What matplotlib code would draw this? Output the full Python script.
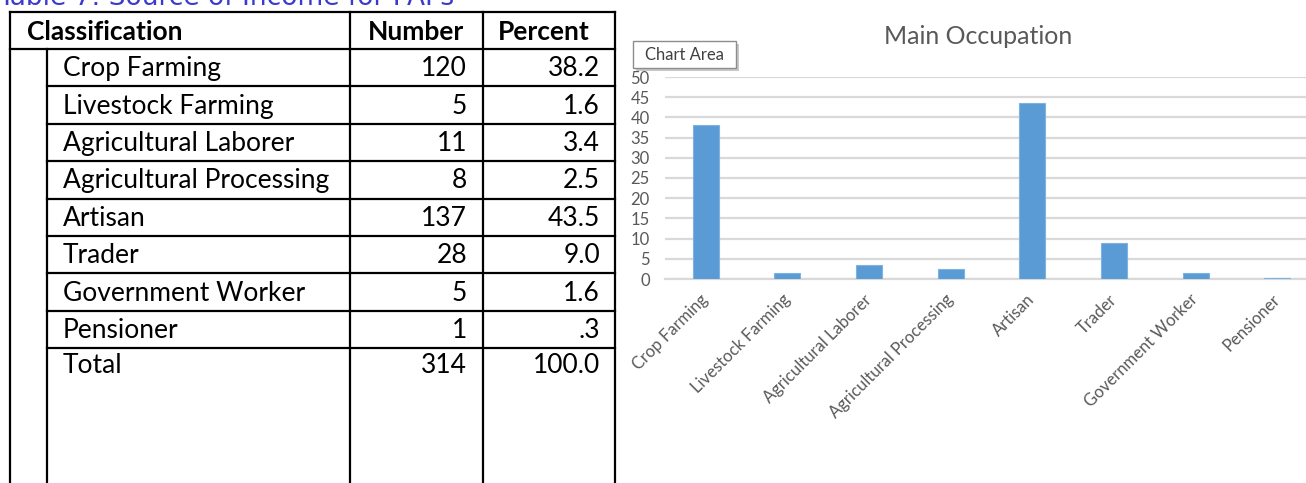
import numpy as np
import matplotlib.pyplot as plt
from matplotlib.patches import Rectangle

# data
categories = ["Crop Farming", "Livestock Farming", "Agricultural Laborer",
              "Agricultural Processing", "Artisan", "Trader",
              "Government Worker", "Pensioner"]
numbers = [120, 5, 11, 8, 137, 28, 5, 1]
percents = [38.2, 1.6, 3.4, 2.5, 43.5, 9.0, 1.6, 0.3]
percent_labels = ["38.2", "1.6", "3.4", "2.5", "43.5", "9.0", "1.6", ".3"]
total_number = 314
total_percent = "100.0"
headers = ["Classification", "Number", "Percent"]
y_ticks = list(range(0, 55, 5))

W, H = 1306, 483
BAR_COLOR = '#5B9BD5'
GREY_TXT = '#595959'
GRID = '#D9D9D9'

fig = plt.figure(figsize=(W / 100, H / 100), dpi=100)

def fx(px):
    return px / W

def fy(py):
    return 1 - py / H

# bar chart (pixel box of plot area: x 665..1318, y 77..279)
ax = fig.add_axes([fx(665), fy(279), fx(1318) - fx(665), fy(77) - fy(279)])
x = np.arange(len(categories))
ax.bar(x, percents, width=0.32, color=BAR_COLOR, edgecolor='#7FB2E0', lw=0.8, zorder=3)
ax.set_xlim(-0.5, len(categories) - 0.5)
ax.set_ylim(0, 50)
ax.set_yticks(y_ticks)
ax.yaxis.grid(True, color=GRID, lw=1.6, zorder=0)
for s in ['top', 'right', 'left']:
    ax.spines[s].set_visible(False)
ax.spines['bottom'].set_color(GRID)
ax.spines['bottom'].set_linewidth(1.6)
ax.tick_params(axis='both', length=0, colors=GREY_TXT)
ax.tick_params(axis='y', labelsize=12, pad=11)
ax.set_xticks(x)
ax.set_xticklabels(categories, rotation=45, ha='right', va='center',
                   rotation_mode='anchor', fontsize=12, color=GREY_TXT,
                   family='Lato')
ax.tick_params(axis='x', pad=13)
for lab in ax.get_yticklabels():
    lab.set_family('Lato')

# overlay in pixel coordinates: table, titles, tooltip
ov = fig.add_axes([0, 0, 1, 1], zorder=5)
ov.set_xlim(0, W)
ov.set_ylim(H, 0)
ov.axis('off')
ov.patch.set_alpha(0)

# cut-off caption at very top
ov.text(-2, 5, "Table 7: Source of Income for PAPs", color='#3A3ACF',
        fontsize=19, family='DejaVu Sans', va='baseline', ha='left')

LW = 1.6
x_left, x_ind, x_c2, x_c3, x_right = 10, 47, 350, 483, 615
y_top, y_head = 12, 49
row_h = 37.4
row_lines = [y_head + row_h * (i + 1) for i in range(len(categories))]

ov.plot([x_left, x_right], [y_top, y_top], color='black', lw=LW)
ov.plot([x_left, x_right], [y_head, y_head], color='black', lw=LW)
for yl in row_lines:
    ov.plot([x_ind, x_right], [yl, yl], color='black', lw=LW)
ov.plot([x_left, x_left], [y_top, H], color='black', lw=LW)
ov.plot([x_ind, x_ind], [y_head, H], color='black', lw=LW)
for xv in [x_c2, x_c3, x_right]:
    ov.plot([xv, xv], [y_top, H], color='black', lw=LW)

TFS = 19
ov.text(27, (y_top + y_head) / 2 + 1, headers[0], fontsize=TFS, weight='bold',
        family='Lato', va='center', ha='left')
ov.text(416, (y_top + y_head) / 2 + 1, headers[1], fontsize=TFS, weight='bold',
        family='Lato', va='center', ha='center')
ov.text(544, (y_top + y_head) / 2 + 1, headers[2], fontsize=TFS, weight='bold',
        family='Lato', va='center', ha='center')

for i, cat in enumerate(categories):
    yc = y_head + row_h * i + row_h / 2 + 1
    ov.text(63, yc, cat, fontsize=TFS, family='Lato', va='center', ha='left')
    ov.text(467, yc, str(numbers[i]), fontsize=TFS, family='Lato', va='center', ha='right')
    ov.text(600, yc, percent_labels[i], fontsize=TFS, family='Lato', va='center', ha='right')
yc = row_lines[-1] + row_h / 2 - 1
ov.text(63, yc, "Total", fontsize=TFS, family='Lato', va='center', ha='left')
ov.text(467, yc, str(total_number), fontsize=TFS, family='Lato', va='center', ha='right')
ov.text(600, yc, total_percent, fontsize=TFS, family='Lato', va='center', ha='right')

# chart title
ov.text(978, 37, "Main Occupation", fontsize=18, color=GREY_TXT, family='Lato',
        va='center', ha='center')

# "Chart Area" tooltip
ov.add_patch(Rectangle((636, 44), 103, 27, facecolor='#C8C8C8', edgecolor='none', zorder=1))
ov.add_patch(Rectangle((633, 41), 103, 27, facecolor='white', edgecolor='#8C8C8C', lw=1, zorder=2))
ov.text(684.5, 55, "Chart Area", fontsize=12, color='#404040', family='Lato',
        va='center', ha='center', zorder=3)

fig.savefig("out.png", dpi=100)
